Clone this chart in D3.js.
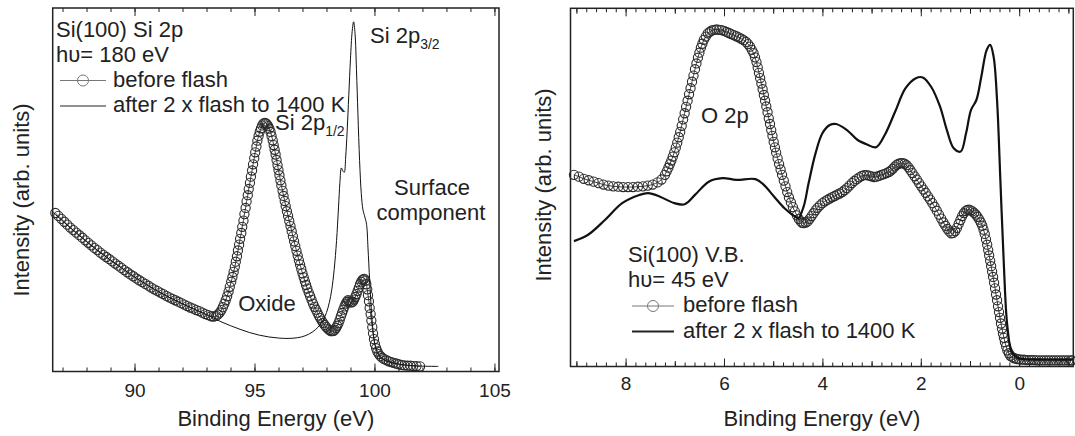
<!doctype html>
<html>
<head>
<meta charset="utf-8">
<title>Si(100) Si 2p and valence band</title>
<script src="https://cdn.jsdelivr.net/npm/d3@7"></script>
<style>
  body { margin: 0; background: #fff; }
  text { font-family: 'Liberation Sans', Arial, Helvetica, sans-serif; fill: #222; }
</style>
</head>
<body>
<svg id="chart"></svg>
<script>
// ---- data (binding energy in eV, intensity as fraction of frame height) ----
const si2pBefore = [
  [86.700,0.436],[86.825,0.428],[86.950,0.420],[87.075,0.412],[87.200,0.404],[87.325,0.396],[87.450,0.389],
  [87.575,0.382],[87.700,0.375],[87.825,0.368],[87.950,0.361],[88.075,0.354],[88.200,0.347],[88.325,0.340],
  [88.450,0.334],[88.575,0.327],[88.700,0.321],[88.825,0.315],[88.950,0.309],[89.075,0.303],[89.200,0.297],
  [89.325,0.291],[89.450,0.285],[89.575,0.279],[89.700,0.273],[89.825,0.267],[89.950,0.262],[90.075,0.256],
  [90.200,0.251],[90.325,0.246],[90.450,0.241],[90.575,0.236],[90.700,0.231],[90.825,0.226],[90.950,0.222],
  [91.075,0.217],[91.200,0.213],[91.325,0.208],[91.450,0.204],[91.575,0.200],[91.700,0.196],[91.825,0.192],
  [91.950,0.188],[92.075,0.184],[92.200,0.180],[92.325,0.176],[92.450,0.173],[92.575,0.169],[92.700,0.166],
  [92.825,0.162],[92.950,0.158],[93.075,0.155],[93.200,0.152],[93.30,0.151],[93.40,0.153],[93.48,0.157],
  [93.55,0.162],[93.62,0.169],[93.68,0.177],[93.74,0.186],[93.80,0.196],[93.86,0.207],[93.92,0.220],
  [93.97,0.233],[94.03,0.247],[94.08,0.260],[94.13,0.274],[94.18,0.288],[94.22,0.302],[94.27,0.317],
  [94.31,0.333],[94.36,0.349],[94.40,0.365],[94.45,0.381],[94.49,0.398],[94.54,0.415],[94.58,0.433],
  [94.63,0.450],[94.67,0.468],[94.72,0.485],[94.76,0.502],[94.81,0.519],[94.85,0.536],[94.90,0.553],
  [94.94,0.570],[94.99,0.587],[95.03,0.603],[95.08,0.619],[95.12,0.635],[95.17,0.648],[95.22,0.660],
  [95.27,0.669],[95.32,0.677],[95.37,0.682],[95.42,0.684],[95.47,0.683],[95.52,0.680],[95.57,0.675],
  [95.62,0.668],[95.67,0.659],[95.71,0.648],[95.76,0.636],[95.80,0.623],[95.84,0.610],[95.88,0.597],
  [95.92,0.582],[95.96,0.568],[96.00,0.554],[96.04,0.540],[96.08,0.526],[96.12,0.512],[96.17,0.497],
  [96.21,0.483],[96.26,0.469],[96.30,0.455],[96.35,0.441],[96.40,0.428],[96.45,0.414],[96.50,0.400],
  [96.55,0.386],[96.60,0.372],[96.65,0.358],[96.70,0.345],[96.75,0.332],[96.80,0.319],[96.85,0.306],
  [96.90,0.294],[96.95,0.282],[97.00,0.270],[97.05,0.259],[97.10,0.248],[97.15,0.238],[97.20,0.228],
  [97.26,0.217],[97.32,0.207],[97.38,0.197],[97.44,0.187],[97.50,0.178],[97.56,0.170],[97.62,0.162],
  [97.68,0.154],[97.74,0.147],[97.80,0.140],[97.86,0.134],[97.92,0.128],[97.98,0.123],[98.05,0.118],
  [98.12,0.114],[98.18,0.111],[98.24,0.111],[98.30,0.112],[98.35,0.115],[98.40,0.120],[98.45,0.126],
  [98.50,0.133],[98.55,0.142],[98.60,0.152],[98.65,0.161],[98.70,0.170],[98.75,0.179],[98.80,0.187],
  [98.85,0.192],[98.90,0.196],[98.95,0.193],[99.00,0.190],[99.05,0.190],[99.10,0.192],[99.15,0.198],
  [99.20,0.205],[99.25,0.213],[99.30,0.222],[99.35,0.231],[99.40,0.240],[99.45,0.247],[99.50,0.252],
  [99.54,0.254],[99.58,0.255],[99.62,0.250],[99.66,0.240],[99.70,0.226],[99.73,0.210],[99.77,0.193],
  [99.80,0.175],[99.84,0.158],[99.87,0.140],[99.91,0.122],[99.94,0.105],[99.98,0.089],[100.02,0.075],
  [100.07,0.064],[100.12,0.055],[100.18,0.048],[100.25,0.042],[100.32,0.038],[100.40,0.034],[100.50,0.031],
  [100.60,0.028],[100.70,0.026],[100.80,0.024],[100.90,0.022],[101.00,0.020],[101.12,0.018],[101.25,0.017],
  [101.38,0.016],[101.50,0.016],[101.62,0.015],[101.75,0.015],[101.90,0.014]
];
const si2pAfter = [
  [86.60,0.438],[87.50,0.385],[88.50,0.331],[89.50,0.283],[90.50,0.239],[91.50,0.202],[92.50,0.171],
  [93.20,0.150],[93.60,0.137],[94.00,0.126],[94.40,0.116],[94.80,0.107],[95.20,0.100],[95.60,0.095],
  [96.00,0.092],[96.40,0.091],[96.80,0.093],[97.10,0.098],[97.40,0.108],[97.65,0.122],[97.85,0.140],
  [98.00,0.162],[98.12,0.190],[98.22,0.225],[98.32,0.280],[98.42,0.360],[98.50,0.450],[98.56,0.520],
  [98.62,0.560],[98.68,0.552],[98.74,0.548],[98.80,0.590],[98.86,0.660],[98.93,0.760],[99.00,0.860],
  [99.07,0.935],[99.13,0.962],[99.19,0.930],[99.25,0.830],[99.31,0.710],[99.38,0.580],[99.45,0.490],
  [99.52,0.445],[99.60,0.425],[99.67,0.405],[99.73,0.340],[99.80,0.250],[99.88,0.160],[99.96,0.100],
  [100.05,0.065],[100.20,0.042],[100.45,0.030],[100.80,0.023],[101.30,0.018],[101.90,0.015],[102.66,0.014]
];
const vbBefore = [
  [9.05,0.535],[8.95,0.530],[8.85,0.524],[8.75,0.520],[8.65,0.516],[8.55,0.512],[8.45,0.508],[8.35,0.505],
  [8.25,0.503],[8.15,0.502],[8.05,0.501],[7.95,0.501],[7.85,0.501],[7.75,0.502],[7.65,0.503],[7.55,0.505],
  [7.45,0.508],[7.35,0.514],[7.27,0.522],[7.20,0.535],[7.165,0.545],[7.13,0.555],[7.10,0.565],[7.07,0.575],
  [7.04,0.586],[7.01,0.598],[6.98,0.611],[6.95,0.625],[6.92,0.640],[6.89,0.655],[6.86,0.672],[6.83,0.690],
  [6.80,0.707],[6.77,0.725],[6.74,0.742],[6.71,0.760],[6.68,0.777],[6.65,0.795],[6.62,0.812],[6.59,0.830],
  [6.56,0.846],[6.53,0.862],[6.50,0.876],[6.47,0.890],[6.44,0.901],[6.41,0.912],[6.37,0.921],[6.33,0.930],
  [6.29,0.934],[6.25,0.938],[6.20,0.940],[6.15,0.941],[6.10,0.940],[6.05,0.939],[6.00,0.937],[5.95,0.934],
  [5.90,0.931],[5.85,0.928],[5.80,0.925],[5.75,0.922],[5.70,0.919],[5.65,0.915],[5.60,0.911],[5.55,0.906],
  [5.51,0.900],[5.47,0.893],[5.435,0.884],[5.40,0.875],[5.37,0.863],[5.34,0.850],[5.315,0.835],[5.29,0.820],
  [5.265,0.805],[5.24,0.790],[5.215,0.774],[5.19,0.758],[5.165,0.742],[5.14,0.726],[5.115,0.710],[5.09,0.693],
  [5.065,0.677],[5.04,0.660],[5.015,0.644],[4.99,0.627],[4.965,0.612],[4.94,0.597],[4.91,0.581],[4.88,0.565],
  [4.85,0.550],[4.82,0.535],[4.785,0.519],[4.75,0.503],[4.715,0.487],[4.68,0.472],[4.64,0.458],[4.60,0.445],
  [4.56,0.433],[4.52,0.422],[4.48,0.412],[4.44,0.405],[4.41,0.401],[4.38,0.400],[4.34,0.402],[4.30,0.405],
  [4.26,0.412],[4.22,0.420],[4.18,0.428],[4.14,0.436],[4.10,0.443],[4.05,0.450],[4.00,0.456],[3.95,0.461],
  [3.90,0.465],[3.85,0.469],[3.80,0.473],[3.75,0.476],[3.70,0.480],[3.65,0.483],[3.60,0.487],[3.55,0.492],
  [3.50,0.498],[3.45,0.505],[3.40,0.512],[3.35,0.518],[3.30,0.523],[3.25,0.528],[3.20,0.532],[3.15,0.534],
  [3.10,0.534],[3.05,0.533],[3.00,0.531],[2.95,0.529],[2.90,0.530],[2.85,0.532],[2.80,0.535],[2.75,0.537],
  [2.70,0.540],[2.65,0.543],[2.61,0.547],[2.57,0.552],[2.53,0.558],[2.49,0.563],[2.45,0.566],[2.41,0.568],
  [2.37,0.568],[2.33,0.566],[2.29,0.562],[2.25,0.556],[2.21,0.548],[2.17,0.540],[2.125,0.531],[2.08,0.522],
  [2.035,0.512],[1.99,0.503],[1.945,0.494],[1.90,0.485],[1.855,0.475],[1.81,0.466],[1.765,0.456],[1.72,0.446],
  [1.675,0.435],[1.63,0.424],[1.585,0.413],[1.54,0.402],[1.50,0.393],[1.46,0.384],[1.42,0.377],[1.38,0.372],
  [1.34,0.373],[1.30,0.378],[1.265,0.387],[1.23,0.398],[1.195,0.409],[1.16,0.420],[1.125,0.428],[1.09,0.434],
  [1.055,0.437],[1.02,0.438],[0.985,0.436],[0.95,0.433],[0.915,0.429],[0.88,0.424],[0.845,0.418],[0.81,0.410],
  [0.78,0.402],[0.75,0.393],[0.725,0.382],[0.70,0.370],[0.675,0.355],[0.65,0.340],[0.63,0.325],[0.61,0.310],
  [0.59,0.295],[0.57,0.280],[0.55,0.265],[0.53,0.250],[0.51,0.234],[0.49,0.218],[0.47,0.201],[0.45,0.185],
  [0.43,0.168],[0.41,0.152],[0.39,0.136],[0.37,0.120],[0.35,0.106],[0.33,0.092],[0.31,0.080],[0.29,0.068],
  [0.265,0.056],[0.24,0.045],[0.21,0.037],[0.18,0.030],[0.14,0.026],[0.10,0.023],[0.05,0.021],[0.00,0.020],
  [-0.05,0.019],[-0.10,0.019],[-0.15,0.018],[-0.20,0.018],[-0.25,0.018],[-0.30,0.018],[-0.35,0.017],
  [-0.40,0.017],[-0.45,0.017],[-0.50,0.017],[-0.55,0.017],[-0.60,0.017],[-0.65,0.017],[-0.70,0.017],
  [-0.75,0.017],[-0.80,0.017],[-0.85,0.017],[-0.90,0.017],[-0.95,0.017],[-1.00,0.017],[-1.05,0.017],
  [-1.08,0.017]
];
const vbAfter = [
  [9.05,0.350],[8.77,0.367],[8.42,0.409],[8.07,0.456],[7.72,0.479],[7.54,0.484],[7.30,0.474],[7.01,0.456],
  [6.80,0.453],[6.59,0.479],[6.31,0.516],[6.03,0.526],[5.75,0.521],[5.36,0.523],[5.19,0.507],[4.98,0.474],
  [4.77,0.442],[4.56,0.419],[4.49,0.414],[4.38,0.447],[4.28,0.512],[4.14,0.595],[4.00,0.651],[3.85,0.674],
  [3.72,0.677],[3.50,0.660],[3.29,0.633],[3.08,0.619],[2.91,0.612],[2.73,0.647],[2.52,0.712],[2.31,0.777],
  [2.10,0.805],[1.96,0.807],[1.79,0.781],[1.61,0.726],[1.47,0.660],[1.33,0.609],[1.19,0.600],[1.08,0.651],
  [0.98,0.716],[0.87,0.744],[0.77,0.809],[0.66,0.884],[0.59,0.898],[0.52,0.865],[0.45,0.744],[0.38,0.512],
  [0.31,0.279],[0.24,0.112],[0.14,0.037],[0.00,0.023],[-0.36,0.020],[-1.09,0.020]
];

const si2pMajor = [90, 95, 100, 105];
const si2pMinor = d3.range(87, 106, 1);
const vbMajor = [8, 6, 4, 2, 0];
const vbMid = [9, 7, 5, 3, 1, -1];
const vbMinor = d3.range(-1, 9.2, 0.2).map(v => +v.toFixed(1));

const xTitle = "Binding Energy (eV)";
const yTitle = "Intensity (arb. units)";
const legendNames = ["before flash", "after 2 x flash to 1400 K"];

// ---- drawing ----
const W = 1075, H = 436;
const svg = d3.select("#chart").attr("width", W).attr("height", H);
svg.append("rect").attr("width", W).attr("height", H).attr("fill", "#fff");

function drawPanel(cfg) {
    const x = d3.scaleLinear().domain(cfg.xDomain).range([cfg.left, cfg.right]);
    const y = d3.scaleLinear().domain([0, 1]).range([cfg.bottom, cfg.top]);
    const g = svg.append("g");

    // ticks, inward on top and bottom
    const tickSets = [
        {vals: cfg.minor, size: 4},
        {vals: cfg.mid || [], size: 5.5},
        {vals: cfg.major, size: 8}
    ];
    tickSets.forEach(t => {
        g.append("g").attr("transform", `translate(0,${cfg.bottom})`)
            .call(d3.axisBottom(x).tickValues(t.vals).tickSize(-t.size).tickFormat(""))
            .call(a => a.select(".domain").remove());
        g.append("g").attr("transform", `translate(0,${cfg.top})`)
            .call(d3.axisTop(x).tickValues(t.vals).tickSize(-t.size).tickFormat(""))
            .call(a => a.select(".domain").remove());
    });
    g.selectAll(".tick line").attr("stroke", "#222").attr("stroke-width", 1);

    g.append("g").attr("transform", `translate(0,${cfg.bottom})`)
        .call(d3.axisBottom(x).tickValues(cfg.major).tickSize(0).tickPadding(cfg.labelPad).tickFormat(d3.format("d")))
        .call(a => a.select(".domain").remove())
        .selectAll("text").style("font-size", "19px").attr("fill", "#222");

    g.append("rect")
        .attr("x", cfg.left).attr("y", cfg.top)
        .attr("width", cfg.right - cfg.left).attr("height", cfg.bottom - cfg.top)
        .attr("fill", "none").attr("stroke", "#222").attr("stroke-width", 1.5);

    // axis titles
    g.append("text")
        .attr("x", (cfg.left + cfg.right) / 2).attr("y", 426)
        .attr("text-anchor", "middle").style("font-size", "22px")
        .text(xTitle);
    g.append("text")
        .attr("transform", `translate(${cfg.yTitleX},${cfg.yTitleY}) rotate(-90)`)
        .attr("text-anchor", "middle").style("font-size", "22px")
        .text(yTitle);

    const line = d3.line().x(d => x(d[0])).y(d => y(d[1])).curve(d3.curveCatmullRom.alpha(0.5));

    // before flash: open circles joined by a thin line
    g.append("path").datum(cfg.before)
        .attr("d", line).attr("fill", "none").attr("stroke", "#444").attr("stroke-width", 1);
    g.append("g").selectAll("circle").data(cfg.before).join("circle")
        .attr("cx", d => x(d[0])).attr("cy", d => y(d[1])).attr("r", 4.6)
        .attr("fill", "none").attr("stroke", "#2a2a2a").attr("stroke-width", 1.1);

    // after flash: plain line
    g.append("path").datum(cfg.after)
        .attr("d", line).attr("fill", "none").attr("stroke", "#111")
        .attr("stroke-width", cfg.afterWidth).attr("stroke-linejoin", "round");

    // legend block
    const lg = cfg.legend;
    g.append("text").attr("x", lg.x).attr("y", lg.y).style("font-size", "22px").text(lg.title);
    g.append("text").attr("x", lg.x).attr("y", lg.y + 25).style("font-size", "22px").text(lg.hv);
    [0, 1].forEach(i => {
        const ly = lg.y + 50 + i * 25.5;
        g.append("line").attr("x1", lg.lineX0).attr("x2", lg.lineX1)
            .attr("y1", ly - 6).attr("y2", ly - 6)
            .attr("stroke", i === 0 ? "#777" : "#222")
            .attr("stroke-width", i === 0 ? 1 : cfg.afterWidth);
        if (i === 0) {
            g.append("circle").attr("cx", (lg.lineX0 + lg.lineX1) / 2).attr("cy", ly - 6).attr("r", 5.5)
                .attr("fill", "none").attr("stroke", "#777").attr("stroke-width", 1);
        }
        g.append("text").attr("x", lg.textX).attr("y", ly).style("font-size", "22px").text(legendNames[i]);
    });

    // annotations
    cfg.notes.forEach(n => {
        const t = g.append("text").attr("x", n.x).attr("y", n.y)
            .attr("text-anchor", n.anchor || "start").style("font-size", "22px");
        t.append("tspan").text(n.text);
        if (n.sub) {
            t.append("tspan").attr("dy", 6).style("font-size", "14px").text(n.sub);
        }
    });
}

drawPanel({
    xDomain: [86.59, 105.19], left: 52.7, right: 499, top: 8, bottom: 371.5,
    major: si2pMajor, minor: si2pMinor, labelPad: 12,
    before: si2pBefore, after: si2pAfter, afterWidth: 1,
    yTitleX: 29, yTitleY: 200,
    legend: {x: 56, y: 36.5, title: "Si(100) Si 2p", hv: "h\u03c5= 180 eV", lineX0: 60, lineX1: 106, textX: 113},
    notes: [
        {x: 370, y: 43, text: "Si 2p", sub: "3/2"},
        {x: 275, y: 130, text: "Si 2p", sub: "1/2"},
        {x: 432, y: 195, text: "Surface", anchor: "middle"},
        {x: 431, y: 220, text: "component", anchor: "middle"},
        {x: 267, y: 311, text: "Oxide", anchor: "middle"}
    ]
});

drawPanel({
    xDomain: [9.12, -1.1], left: 570.5, right: 1073.3, top: 8.3, bottom: 366.5,
    major: vbMajor, mid: vbMid, minor: vbMinor, labelPad: 10,
    before: vbBefore, after: vbAfter, afterWidth: 2.2,
    yTitleX: 551, yTitleY: 185,
    legend: {x: 628, y: 262, title: "Si(100) V.B.", hv: "h\u03c5= 45 eV", lineX0: 632, lineX1: 674, textX: 683},
    notes: [
        {x: 701, y: 123, text: "O 2p"}
    ]
});
</script>
</body>
</html>
